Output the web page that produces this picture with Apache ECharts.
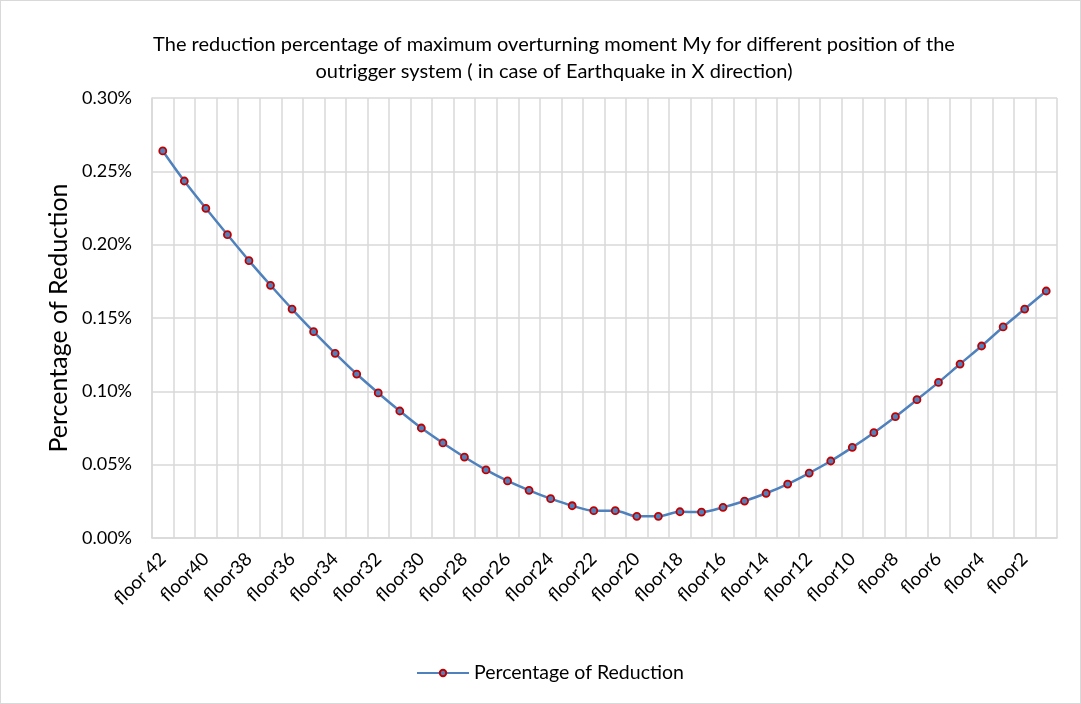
<!DOCTYPE html>
<html><head><meta charset="utf-8">
<script src="https://cdn.jsdelivr.net/npm/echarts@6/dist/echarts.min.js"></script>
<style>html,body{margin:0;padding:0;background:#fff}#c{width:1079px;height:702px;border:1px solid #d9d9d9}</style>
</head><body><div id="c"></div>
<script>
const categories = ['floor 42','floor41','floor40','floor39','floor38','floor37','floor36','floor35','floor34','floor33','floor32','floor31','floor30','floor29','floor28','floor27','floor26','floor25','floor24','floor23','floor22','floor21','floor20','floor19','floor18','floor17','floor16','floor15','floor14','floor13','floor12','floor11','floor10','floor9','floor8','floor7','floor6','floor5','floor4','floor3','floor2','floor1'];
const reduction = [0.2639,0.2434,0.2248,0.2068,0.1891,0.1723,0.1561,0.1407,0.1259,0.1118,0.0989,0.0866,0.0750,0.0648,0.0552,0.0464,0.0389,0.0325,0.0268,0.0220,0.0186,0.0186,0.0148,0.0148,0.0179,0.0177,0.0209,0.0252,0.0305,0.0368,0.0443,0.0525,0.0618,0.0718,0.0827,0.0943,0.1061,0.1186,0.1309,0.1439,0.1561,0.1684];
const seriesName = 'Percentage of Reduction';
const titleText = 'The reduction percentage of maximum overturning moment My for different position of the\noutrigger system ( in case of Earthquake in X direction)';

const font = 'Lato, "Open Sans", sans-serif';
const chart = echarts.init(document.getElementById('c'), null, {renderer:'canvas'});
chart.setOption({
  animation:false,
  title:{text:titleText,left:548,top:25,textAlign:'center',
    textStyle:{fontFamily:font,fontSize:20,fontWeight:'normal',color:'#000',lineHeight:27}},
  grid:{left:151,right:23,top:97,bottom:165,containLabel:false},
  legend:{bottom:15,left:410,itemWidth:52,itemHeight:8,itemGap:6,
    textStyle:{fontFamily:font,fontSize:19.5,color:'#000'},data:[seriesName]},
  xAxis:{type:'category',data:categories,boundaryGap:true,
    axisLine:{lineStyle:{color:'#d9d9d9',width:1.5}},
    axisTick:{show:false},
    axisLabel:{interval:1,rotate:45,fontFamily:font,fontSize:18.5,color:'#000',margin:18},
    splitLine:{show:true,interval:0,lineStyle:{color:'#d9d9d9',width:1.5}}},
  yAxis:{type:'value',min:0,max:0.30,interval:0.05,
    name:'Percentage of Reduction',nameLocation:'middle',nameGap:81,
    nameTextStyle:{fontFamily:font,fontSize:25,color:'#000'},
    axisLine:{show:true,lineStyle:{color:'#d9d9d9',width:1.5}},
    axisTick:{show:false},
    axisLabel:{formatter:v=>v.toFixed(2)+'%',fontFamily:font,fontSize:18,color:'#000',margin:20},
    splitLine:{lineStyle:{color:'#d9d9d9',width:1.5}}},
  series:[{name:seriesName,type:'line',data:reduction,smooth:0.3,
    symbol:'circle',symbolSize:7,
    lineStyle:{color:'#4f81bd',width:2.5},
    itemStyle:{color:'#4f81bd',borderColor:'#c00000',borderWidth:1.8}}]
});
</script></body></html>
